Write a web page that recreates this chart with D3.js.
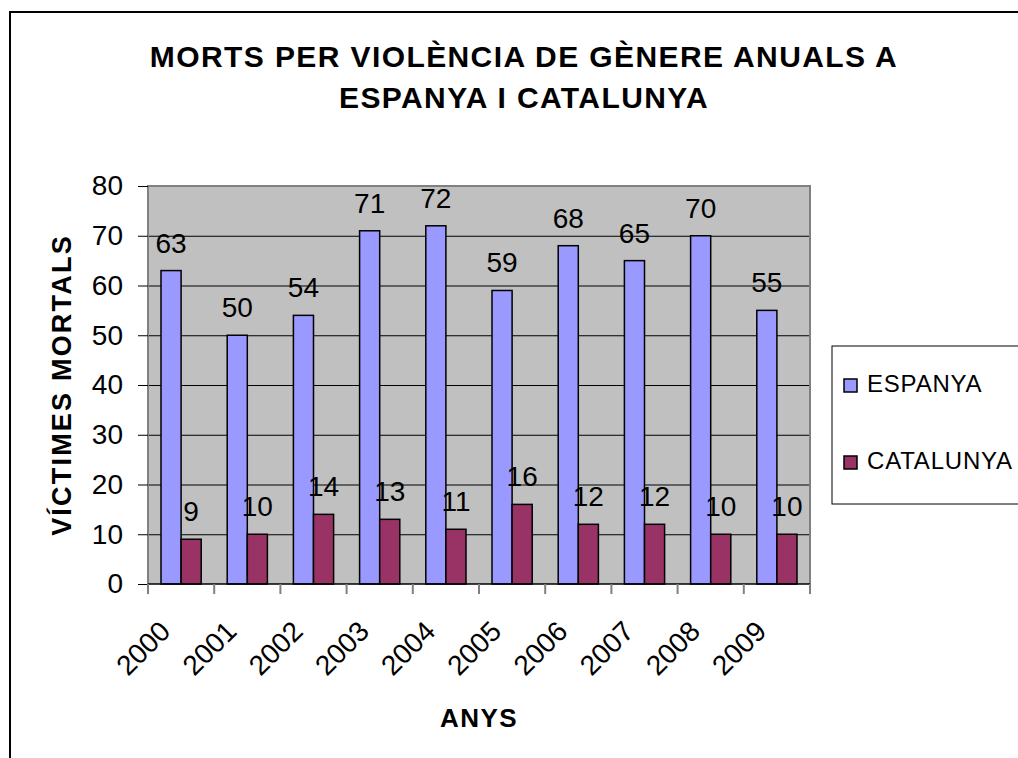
<!DOCTYPE html>
<html>
<head>
<meta charset="utf-8">
<script src="https://cdn.jsdelivr.net/npm/d3@7"></script>
<style>
  body { margin: 0; background: #fff; }
  text { font-family: Arial, "Liberation Sans", sans-serif; }
</style>
</head>
<body>
<svg id="chart" width="1018" height="758"></svg>
<script>
const years = ["2000", "2001", "2002", "2003", "2004", "2005", "2006", "2007", "2008", "2009"];
const espanya = [63, 50, 54, 71, 72, 59, 68, 65, 70, 55];
const catalunya = [9, 10, 14, 13, 11, 16, 12, 12, 10, 10];
const seriesNames = ["ESPANYA", "CATALUNYA"];
const seriesColors = ["#9999FF", "#993366"];
const yTicks = [0, 10, 20, 30, 40, 50, 60, 70, 80];

const svg = d3.select("#chart");
const margin = { left: 148, top: 186, right: 1018 - 810, bottom: 758 - 584 };
const innerWidth = 1018 - margin.left - margin.right;
const innerHeight = 758 - margin.top - margin.bottom;

// chart border
svg.append("rect")
    .attr("x", 10).attr("y", 12)
    .attr("width", 1030).attr("height", 770)
    .attr("fill", "none").attr("stroke", "#000").attr("stroke-width", 2);

// title
const title = svg.append("text")
    .attr("text-anchor", "middle")
    .attr("font-weight", "bold")
    .attr("font-size", 30)
    .attr("letter-spacing", 1.4);
title.append("tspan").attr("x", 524).attr("y", 67).text("MORTS PER VIOLÈNCIA DE GÈNERE ANUALS A");
title.append("tspan").attr("x", 524).attr("y", 108).text("ESPANYA I CATALUNYA");

const g = svg.append("g").attr("transform", `translate(${margin.left},${margin.top})`);

const x = d3.scaleBand().domain(years).range([0, innerWidth]).paddingInner(0).paddingOuter(0);
const x1 = d3.scaleBand().domain(seriesNames).range([13, x.bandwidth() - 13]);
const y = d3.scaleLinear().domain([0, 80]).range([innerHeight, 0]);

// plot background
g.append("rect")
    .attr("width", innerWidth).attr("height", innerHeight)
    .attr("fill", "#C0C0C0");

// gridlines
g.selectAll(".grid").data(yTicks.slice(1, -1)).join("line")
    .attr("x1", 0).attr("x2", innerWidth)
    .attr("y1", d => y(d) + 0.5).attr("y2", d => y(d) + 0.5)
    .attr("stroke", "#000").attr("stroke-width", 1);

// plot border
g.append("path")
    .attr("d", `M0,${innerHeight} V0 H${innerWidth} V${innerHeight}`)
    .attr("fill", "none").attr("stroke", "#808080").attr("stroke-width", 2);

// bars
const data = years.map((yr, i) => ({ year: yr, values: [espanya[i], catalunya[i]] }));
const groups = g.selectAll(".grp").data(data).join("g")
    .attr("transform", d => `translate(${x(d.year)},0)`);

groups.selectAll("rect").data(d => d.values.map((v, j) => ({ v, j }))).join("rect")
    .attr("x", d => x1(seriesNames[d.j]))
    .attr("y", d => y(d.v))
    .attr("width", x1.bandwidth())
    .attr("height", d => y(0) - y(d.v))
    .attr("fill", d => seriesColors[d.j])
    .attr("stroke", "#000").attr("stroke-width", 1.5);

groups.selectAll("text").data(d => d.values.map((v, j) => ({ v, j }))).join("text")
    .attr("x", d => x1(seriesNames[d.j]) + x1.bandwidth() / 2)
    .attr("y", d => y(d.v) - 18)
    .attr("text-anchor", "middle")
    .attr("font-size", 28)
    .text(d => d.v);

// y axis
const yAxis = g.append("g")
    .call(d3.axisLeft(y).tickValues(yTicks).tickSize(10).tickPadding(15));
yAxis.select(".domain").remove();
yAxis.selectAll(".tick line").attr("stroke", "#000");
yAxis.selectAll(".tick text")
    .attr("font-size", 28).attr("font-family", "Arial, 'Liberation Sans', sans-serif")
    .attr("fill", "#000");

// x axis
g.append("line")
    .attr("x1", 0).attr("x2", innerWidth)
    .attr("y1", innerHeight).attr("y2", innerHeight)
    .attr("stroke", "#000").attr("stroke-width", 1.5);

g.selectAll(".xtick").data(d3.range(years.length + 1)).join("line")
    .attr("x1", i => i * x.bandwidth()).attr("x2", i => i * x.bandwidth())
    .attr("y1", innerHeight).attr("y2", innerHeight + 10)
    .attr("stroke", "#808080").attr("stroke-width", 2);

g.selectAll(".xlabel").data(years).join("text")
    .attr("transform", d => `translate(${x(d) + x.bandwidth() / 2 - 9},${innerHeight + 49}) rotate(-45)`)
    .attr("text-anchor", "end")
    .attr("font-size", 28)
    .text(d => d);

// axis titles
svg.append("text")
    .attr("transform", `translate(71,${margin.top + innerHeight / 2}) rotate(-90)`)
    .attr("text-anchor", "middle")
    .attr("font-weight", "bold").attr("font-size", 27)
    .attr("letter-spacing", 2.2)
    .text("VÍCTIMES MORTALS");

svg.append("text")
    .attr("x", margin.left + innerWidth / 2).attr("y", 727)
    .attr("text-anchor", "middle")
    .attr("font-weight", "bold").attr("font-size", 26)
    .attr("letter-spacing", 1.5)
    .text("ANYS");

// legend
const legend = svg.append("g");
legend.append("rect")
    .attr("x", 832).attr("y", 346).attr("width", 200).attr("height", 158)
    .attr("fill", "#fff").attr("stroke", "#000").attr("stroke-width", 1);
const legendY = [392, 469];
seriesNames.forEach((name, i) => {
    legend.append("rect")
        .attr("x", 844).attr("y", legendY[i] - 13)
        .attr("width", 13).attr("height", 13)
        .attr("fill", seriesColors[i]).attr("stroke", "#000").attr("stroke-width", 1.5);
    legend.append("text")
        .attr("x", 867).attr("y", legendY[i])
        .attr("font-size", 24)
        .attr("letter-spacing", 0.8)
        .text(name);
});
</script>
</body>
</html>
